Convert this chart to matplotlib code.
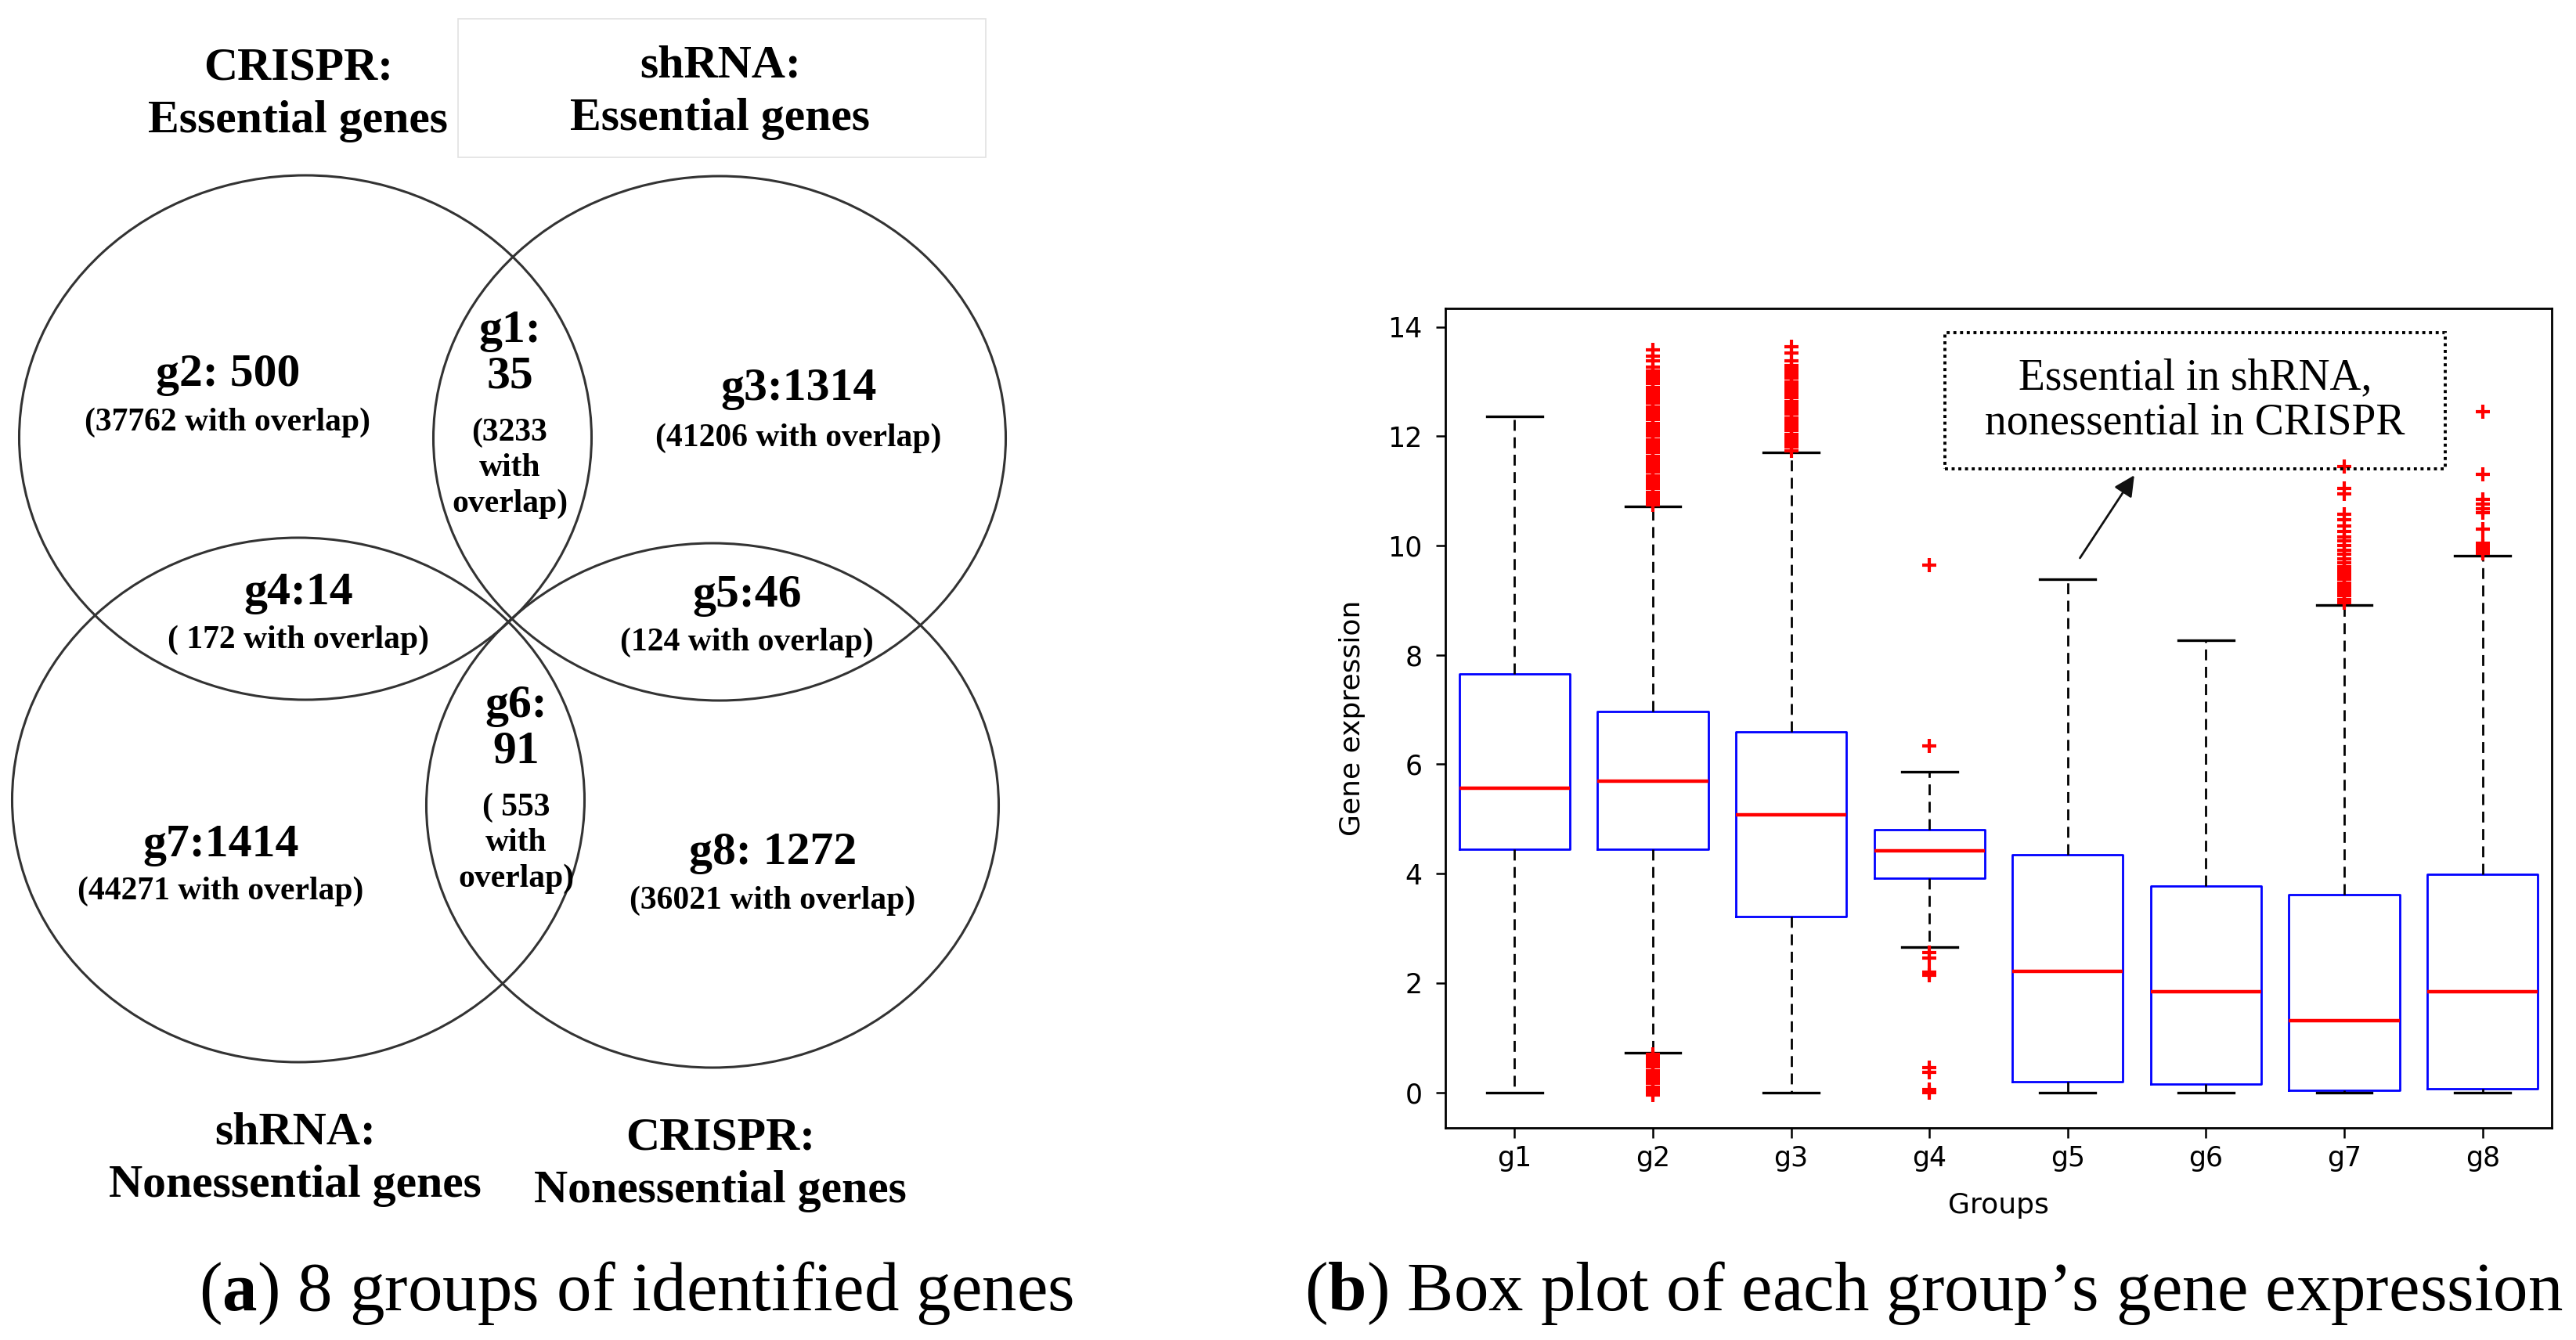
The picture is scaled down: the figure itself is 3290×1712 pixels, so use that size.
import matplotlib.pyplot as plt
from matplotlib.patches import Ellipse, Rectangle

plt.rcParams['mathtext.fontset'] = 'custom'
plt.rcParams['mathtext.rm'] = 'Liberation Serif'
plt.rcParams['mathtext.bf'] = 'Liberation Serif:bold'

# ---------------- data: box plot (b) ----------------
groups = ['g1', 'g2', 'g3', 'g4', 'g5', 'g6', 'g7', 'g8']
q1 = [4.44, 4.44, 3.22, 3.92, 0.19, 0.15, 0.03, 0.07]
med = [5.56, 5.69, 5.08, 4.42, 2.22, 1.84, 1.31, 1.84]
q3 = [7.66, 6.97, 6.60, 4.81, 4.35, 3.78, 3.62, 3.99]
whis_lo = [0.0, 0.73, 0.0, 2.65, 0.0, 0.0, 0.0, 0.0]
whis_hi = [12.36, 10.72, 11.70, 5.87, 9.38, 8.27, 8.92, 9.82]

fliers_g1 = []
fliers_g2 = [10.74, 10.8, 10.86, 10.92, 10.98, 11.04, 11.1, 11.16, 11.22, 11.28,
             11.34, 11.4, 11.46, 11.52, 11.58, 11.64, 11.7, 11.76, 11.82, 11.88,
             11.94, 12.0, 12.06, 12.12, 12.18, 12.24, 12.3, 12.36, 12.42, 12.48,
             12.54, 12.6, 12.66, 12.72, 12.78, 12.84, 12.9, 12.96, 13.02, 13.08,
             13.14, 13.2, 13.26, 13.38, 13.46, 13.58,
             0.7, 0.64, 0.58, 0.52, 0.46, 0.4, 0.34, 0.28, 0.22, 0.16, 0.1, 0.04,
             -0.01, -0.05]
fliers_g3 = [11.74, 11.8, 11.86, 11.92, 11.98, 12.04, 12.1, 12.16, 12.22, 12.28,
             12.34, 12.4, 12.46, 12.52, 12.58, 12.64, 12.7, 12.76, 12.82, 12.88,
             12.94, 13.0, 13.06, 13.12, 13.18, 13.24, 13.3, 13.38, 13.52, 13.64]
fliers_g4 = [9.65, 6.33, 2.55, 2.45, 2.2, 2.14, 0.45, 0.37, 0.05, 0.0]
fliers_g5 = []
fliers_g6 = []
fliers_g7 = [8.96, 9.02, 9.08, 9.14, 9.2, 9.26, 9.32, 9.38, 9.44, 9.5, 9.56, 9.62,
             9.68, 9.76, 9.84, 9.92, 10.0, 10.08, 10.16, 10.26, 10.36, 10.48,
             10.58, 10.95, 11.05, 11.45]
fliers_g8 = [9.86, 9.9, 9.94, 9.98, 10.04, 10.3, 10.6, 10.68, 10.76, 10.84,
             11.3, 12.45]
fliers = [fliers_g1, fliers_g2, fliers_g3, fliers_g4,
          fliers_g5, fliers_g6, fliers_g7, fliers_g8]

# ---------------- data: venn diagram (a) ----------------
venn_names = ['g1', 'g2', 'g3', 'g4', 'g5', 'g6', 'g7', 'g8']
venn_counts = [35, 500, 1314, 14, 46, 91, 1414, 1272]
venn_overlap = [3233, 37762, 41206, 172, 124, 553, 44271, 36021]
venn_sep = [':\n', ': ', ':', ':', ':', ':\n', ':', ': ']
sub_fmt = ['({}\nwith\noverlap)', '({} with overlap)', '({} with overlap)',
           '( {} with overlap)', '({} with overlap)', '( {}\nwith\noverlap)',
           '({} with overlap)', '({} with overlap)']
set_titles = ['CRISPR:\nEssential genes', 'shRNA:\nEssential genes',
              'shRNA:\nNonessential genes', 'CRISPR:\nNonessential genes']

# layout (pixel coordinates of the figure)
W, H = 3291, 1712
ell_xy = [(390, 559), (919, 560), (381, 1022), (910, 1029)]
ell_w, ell_h = 731, 670
lab_pos = [(651, 452, 598), (291, 479, 540), (1020, 497, 560), (381, 758, 818),
           (954, 761, 821), (659, 931, 1077), (282, 1080, 1139), (987, 1090, 1151)]
title_pos = [(381, 121), (920, 118), (377, 1481), (920, 1488)]

serif = 'Liberation Serif'

fig = plt.figure(figsize=(W / 100, H / 100), dpi=100)

# background axes in pixel coordinates for the venn and captions
bg = fig.add_axes([0, 0, 1, 1])
bg.set_xlim(0, W)
bg.set_ylim(H, 0)
bg.axis('off')

for (cx, cy) in ell_xy:
    bg.add_patch(Ellipse((cx, cy), ell_w, ell_h, fill=False, ec='#333333', lw=2.2))

bg.add_patch(Rectangle((585, 24), 674, 177, fill=False, ec='#e2e2e2', lw=1.2))

for (tx, ty), t in zip(title_pos, set_titles):
    bg.text(tx, ty, t, ha='center', va='center', fontsize=43, fontweight='bold',
            family=serif, linespacing=1.32)

for i in range(len(venn_names)):
    x, yt, ys = lab_pos[i]
    bg.text(x, yt, venn_names[i] + venn_sep[i] + str(venn_counts[i]),
            ha='center', va='center', fontsize=43, fontweight='bold',
            family=serif, linespacing=1.1)
    bg.text(x, ys, sub_fmt[i].format(venn_overlap[i]), ha='center', va='center',
            fontsize=30, fontweight='bold', family=serif, linespacing=1.25)

bg.text(812, 1652, r'($\mathbf{a}$) 8 groups of identified genes', ha='center',
        va='center', fontsize=64, family=serif)
bg.text(2470, 1652, r'($\mathbf{b}$) Box plot of each group’s gene expression',
        ha='center', va='center', fontsize=64, family=serif)

# ---------------- box plot ----------------
ax = fig.add_axes([0.5609, 0.1583, 0.4294, 0.6116])
stats = []
for i, g in enumerate(groups):
    stats.append({'label': g, 'q1': q1[i], 'med': med[i], 'q3': q3[i],
                  'whislo': whis_lo[i], 'whishi': whis_hi[i], 'fliers': fliers[i]})

ax.bxp(stats, widths=0.8,
       boxprops=dict(color='blue', lw=2),
       medianprops=dict(color='red', lw=3.2),
       whiskerprops=dict(color='black', lw=2, linestyle='--', dashes=(5, 3)),
       capprops=dict(color='black', lw=2.4),
       flierprops=dict(marker='+', markeredgecolor='red', markersize=13, mew=3,
                       linestyle='none'))

ax.set_xlim(0.5, 8.5)
ax.set_ylim(-0.65, 14.34)
ax.set_yticks(range(0, 15, 2))
ax.tick_params(labelsize=25, length=9, width=1.8)
ax.tick_params(axis='x', pad=7)
ax.tick_params(axis='y', pad=12)
for s in ax.spines.values():
    s.set_linewidth(2)
ax.set_xlabel('Groups', fontsize=26)
ax.set_ylabel('Gene expression', fontsize=26)
ax.xaxis.set_label_coords(0.5, -0.078)
ax.yaxis.set_label_coords(-0.072, 0.5)

# annotation box
ax.add_patch(Rectangle((4.11, 11.41), 3.62, 2.49, fill=False, ec='black', lw=2.8,
                       linestyle=(0, (1, 1.2)), zorder=5))
ax.text(5.92, 12.65, 'Essential in shRNA,\nnonessential in CRISPR', ha='center',
        va='center', fontsize=40, family=serif, linespacing=1.15)
ax.annotate('', xy=(5.49, 11.32), xytext=(5.08, 9.74),
            arrowprops=dict(arrowstyle='-|>', color='#111111', lw=2,
                            mutation_scale=40))

fig.savefig('out.png', dpi=100)
